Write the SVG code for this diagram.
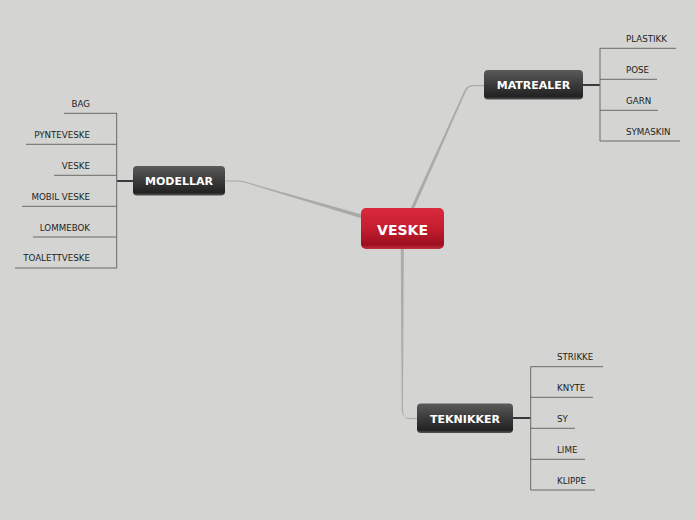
<svg xmlns="http://www.w3.org/2000/svg" width="696" height="520" viewBox="0 0 696 520">
<defs>
<linearGradient id="gDark" x1="0" y1="0" x2="0" y2="1">
<stop offset="0" stop-color="#5a5a5a"/>
<stop offset="0.5" stop-color="#3a3a3a"/>
<stop offset="0.9" stop-color="#222"/>
<stop offset="1" stop-color="#555"/>
</linearGradient>
<linearGradient id="gRed" x1="0" y1="0" x2="0" y2="1">
<stop offset="0" stop-color="#d92a3c"/>
<stop offset="0.5" stop-color="#c41d30"/>
<stop offset="0.9" stop-color="#9c0f1e"/>
<stop offset="1" stop-color="#c23040"/>
</linearGradient>
<style>
.sub{font-family:"DejaVu Sans",Verdana,sans-serif;font-size:8.7px;fill:#222}
.mid{font-family:"DejaVu Sans",Verdana,sans-serif;font-size:11px;font-weight:bold;fill:#fff;text-anchor:middle}
.ln{stroke:#6a6a6a;stroke-width:1;fill:none}
.br{stroke:#3a3a3a;stroke-width:2;fill:none}
.con{fill:#aaaba7}
</style>
</defs>
<rect width="696" height="520" fill="#d4d5d2"/>
<g id="connectors">
<path class="con" d="M409.5 211 L463.8 92 Q466.5 85 473 85 L484 85 L484 86.2 L473 86.2 Q468 86.2 465.4 92.5 L413 211 Z"/>
<path class="con" d="M362 214.5 L245 181.6 Q241 180.4 236 180.4 L225 180.4 L225 181.5 L236 181.5 Q240.5 181.5 244.5 182.6 L362 218.5 Z"/>
<path class="con" d="M400.8 249 L401.7 410 Q402 418 410 418 L417 418 L417 419 L410 419 Q403 419 402.9 410 L403.8 249 Z"/>
<path class="br" d="M582 85 H600"/>
<path class="br" d="M133 181 H117"/>
<path class="br" d="M513 418 H531"/>
</g>
<g id="node-veske">
<rect x="361" y="208" width="83" height="41" rx="5" fill="url(#gRed)"/>
<text x="402.5" y="235" class="mid" style="font-size:14px">VESKE</text>
</g>
<g id="node-matrealer">
<rect x="484" y="70" width="99" height="29.5" rx="4" fill="url(#gDark)"/>
<text x="533.5" y="89" class="mid">MATREALER</text>
</g>
<g id="matrealer-items">
<path class="ln" d="M600 48 V141 M600 48.3 H676 M600 79.3 H657 M600 110.3 H658 M600 141 H680"/>
<text x="626" y="42" class="sub">PLASTIKK</text>
<text x="626" y="73" class="sub">POSE</text>
<text x="626" y="104" class="sub">GARN</text>
<text x="626" y="135" class="sub">SYMASKIN</text>
</g>
<g id="node-modellar">
<rect x="133" y="166" width="92" height="29.5" rx="4" fill="url(#gDark)"/>
<text x="179" y="185" class="mid">MODELLAR</text>
</g>
<g id="modellar-items">
<path class="ln" d="M116.7 113 V268 M64 113.3 H117 M26 144.3 H117 M54 175.3 H117 M22 206.3 H117 M33 237 H117 M15 268 H117"/>
<text x="90" y="107" class="sub" text-anchor="end">BAG</text>
<text x="90" y="138" class="sub" text-anchor="end">PYNTEVESKE</text>
<text x="90" y="169" class="sub" text-anchor="end">VESKE</text>
<text x="90" y="200" class="sub" text-anchor="end">MOBIL VESKE</text>
<text x="90" y="231" class="sub" text-anchor="end">LOMMEBOK</text>
<text x="90" y="261" class="sub" text-anchor="end">TOALETTVESKE</text>
</g>
<g id="node-teknikker">
<rect x="417" y="403.5" width="96" height="29.5" rx="4" fill="url(#gDark)"/>
<text x="465" y="422.5" class="mid">TEKNIKKER</text>
</g>
<g id="teknikker-items">
<path class="ln" d="M530.7 366.7 V490 M530.7 366.7 H603 M530.7 397.3 H593 M530.7 428.3 H575 M530.7 459.3 H585 M530.7 490 H595"/>
<text x="557" y="360" class="sub">STRIKKE</text>
<text x="557" y="391" class="sub">KNYTE</text>
<text x="557" y="422" class="sub">SY</text>
<text x="557" y="453" class="sub">LIME</text>
<text x="557" y="484" class="sub">KLIPPE</text>
</g>
</svg>
